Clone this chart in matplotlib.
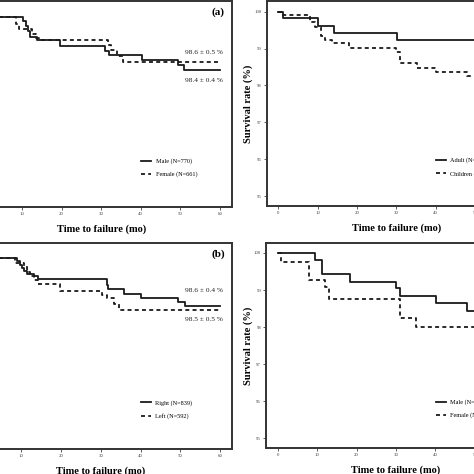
import matplotlib
matplotlib.use("Agg")
import matplotlib.pyplot as plt

plt.rcParams['font.family'] = ['Liberation Serif', 'DejaVu Serif']

# (a) gender
a_male_t = [0, 10.2, 11.0, 11.5, 12.0, 13.9, 19.7, 31.0, 32.0, 40.4, 49.5, 51.0, 60]
a_male_s = [100, 99.88, 99.71, 99.56, 99.40, 99.29, 99.12, 98.97, 98.83, 98.70, 98.55, 98.40, 98.40]
a_fem_t = [0, 8.6, 9.3, 12.6, 13.5, 14.4, 31.8, 32.6, 34.1, 35.6, 60]
a_fem_s = [100, 99.79, 99.64, 99.49, 99.37, 99.31, 99.15, 99.00, 98.82, 98.63, 98.63]

# (b) side
b_right_t = [0, 9.0, 9.65, 10.25, 10.8, 11.5, 13.2, 14.2, 31.5, 31.9, 35.8, 40.2, 49.3, 51.1, 60]
b_right_s = [100, 99.92, 99.81, 99.72, 99.62, 99.54, 99.47, 99.39, 99.21, 99.11, 98.97, 98.86, 98.74, 98.60, 98.60]
b_left_t = [0, 8.6, 10.8, 11.5, 12.2, 13.2, 14.4, 19.7, 30.4, 31.7, 33.3, 34.6, 60]
b_left_s = [100, 99.86, 99.76, 99.61, 99.47, 99.37, 99.25, 99.05, 98.92, 98.84, 98.67, 98.50, 98.50]

# age group
c_adult_t = [0, 1.1, 10.1, 14.1, 30.2, 60]
c_adult_s = [100, 99.82, 99.62, 99.42, 99.24, 99.24]
c_child_t = [0, 1.0, 8.15, 9.4, 10.9, 12.0, 13.7, 17.9, 30.0, 30.9, 35.3, 40.1, 48.0, 60]
c_child_s = [100, 99.91, 99.71, 99.59, 99.35, 99.23, 99.14, 99.02, 98.92, 98.62, 98.48, 98.37, 98.26, 98.26]

# children by gender
d_male_t = [0, 9.35, 11.3, 18.3, 29.9, 31.0, 40.1, 48.0, 60]
d_male_s = [100, 99.81, 99.42, 99.22, 99.05, 98.84, 98.64, 98.44, 98.44]
d_fem_t = [0, 0.85, 8.0, 11.9, 13.1, 31.0, 35.1, 60]
d_fem_s = [100, 99.75, 99.26, 99.09, 98.75, 98.25, 97.99, 97.99]

panels = [
    # pixel box (left, top, right, bottom), ylim, curves, legend labels, tag, notes
    dict(box=(-29.5, 1, 231.9, 207), ylim=(94.24, 100.48),
         curves=[(a_male_t, a_male_s), (a_fem_t, a_fem_s)],
         labels=['Male (N=770)', 'Female (N=661)'], tag='(a)',
         notes=[('98.6 \u00b1 0.5 %', 0.749), ('98.4 \u00b1 0.4 %', 0.613)], ylab=False),
    dict(box=(266.5, 1, 525.9, 206), ylim=(94.73, 100.29),
         curves=[(c_adult_t, c_adult_s), (c_child_t, c_child_s)],
         labels=['Adult (N=1059)', 'Children (N=372)'], tag=None, notes=[], ylab=True),
    dict(box=(-30.9, 243, 232.3, 449), ylim=(94.47, 100.44),
         curves=[(b_right_t, b_right_s), (b_left_t, b_left_s)],
         labels=['Right (N=839)', 'Left (N=592)'], tag='(b)',
         notes=[('98.6 \u00b1 0.4 %', 0.770), ('98.5 \u00b1 0.5 %', 0.628)], ylab=False),
    dict(box=(266, 243, 526, 447.7), ylim=(94.74, 100.27),
         curves=[(d_male_t, d_male_s), (d_fem_t, d_fem_s)],
         labels=['Male (N=205)', 'Female (N=167)'], tag=None, notes=[], ylab=True),
]

W = H = 474
fig = plt.figure(figsize=(4.74, 4.74), dpi=100)

for p in panels:
    l, t, r, b = p['box']
    ax = fig.add_axes([l / W, 1 - b / H, (r - l) / W, (b - t) / H])
    (t1, s1), (t2, s2) = p['curves']
    ax.step(t1, s1, where='post', color='#1a1a1a', lw=1.3, label=p['labels'][0])
    ax.step(t2, s2, where='post', color='#1a1a1a', lw=1.3,
            linestyle=(0, (2.2, 1.8)), label=p['labels'][1])
    ax.set_xlim(-3, 63)
    ax.set_ylim(*p['ylim'])
    ax.set_xticks(range(0, 61, 10))
    ax.set_yticks(range(95, 101))
    ax.tick_params(labelsize=3.5, length=2, width=0.6, pad=1.5, colors='#444')
    for sp in ax.spines.values():
        sp.set_linewidth(1.4)
        sp.set_color('#333')
    ax.set_xlabel('Time to failure (mo)', fontsize=7.5, fontweight='bold', labelpad=6)
    if p['ylab']:
        ax.set_ylabel('Survival rate (%)', fontsize=7.5, fontweight='bold', labelpad=1)
    ax.legend(loc='center left', bbox_to_anchor=(0.653, 0.19), frameon=False,
              fontsize=4.5, handlelength=1.6, handletextpad=0.7, labelspacing=1.2,
              borderpad=0, borderaxespad=0)
    if p['tag']:
        ax.text(0.972, 0.945, p['tag'], transform=ax.transAxes, ha='right', va='center',
                fontsize=8, fontweight='bold')
    for txt, yf in p['notes']:
        ax.text(0.966, yf, txt, transform=ax.transAxes, ha='right', va='center',
                fontsize=5.3, color='#222')

fig.savefig('out.png', dpi=100)
